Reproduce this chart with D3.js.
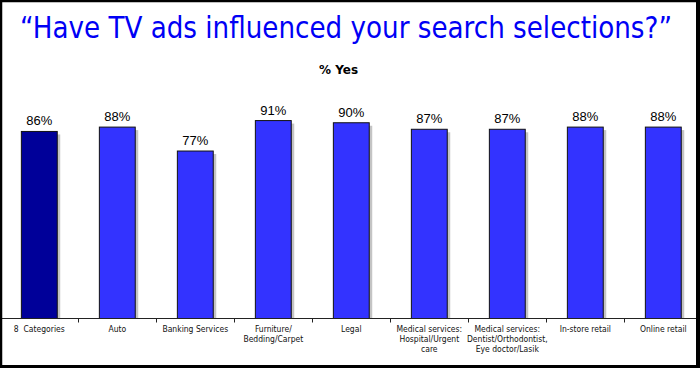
<!DOCTYPE html>
<html>
<head>
<meta charset="utf-8">
<script src="https://cdn.jsdelivr.net/npm/d3@7"></script>
<style>
  body { margin: 0; background: #fff; }
  svg { display: block; }
  text { white-space: pre; }
</style>
</head>
<body>
<script>
// chart data
const categories = [
    "8  Categories", "Auto", "Banking Services", "Furniture/\nBedding/Carpet", "Legal",
    "Medical services:\nHospital/Urgent\ncare", "Medical services:\nDentist/Orthodontist,\nEye doctor/Lasik",
    "In-store retail", "Online retail"
];
const values = [86, 88, 77, 91, 90, 87, 87, 88, 88];
const titleText = "\u201CHave TV ads influenced your search selections?\u201D";
const subTitle = "% Yes";

let W = 700, H = 368;

let svg = d3.select("body")
    .append("svg")
    .attr("width", W)
    .attr("height", H);

svg.append("rect")
    .attr("width", W).attr("height", H)
    .attr("fill", "#fff");

let x = d3.scaleBand()
    .domain(categories)
    .range([0.3, 702.3])
    .paddingInner(0.54)
    .paddingOuter(0.27);

let y = d3.scaleLinear()
    .domain([0, 100])
    .range([318.5, 101]);

// title
svg.append("text")
    .attr("x", 20)
    .attr("y", 38)
    .attr("font-family", "DejaVu Sans Condensed, DejaVu Sans")
    .attr("font-size", 30)
    .attr("fill", "#0000f5")
    .attr("textLength", 652)
    .attr("lengthAdjust", "spacingAndGlyphs")
    .text(titleText);

svg.append("text")
    .attr("x", 338.5)
    .attr("y", 74)
    .attr("text-anchor", "middle")
    .attr("font-family", "DejaVu Sans")
    .attr("font-weight", "bold")
    .attr("font-size", 12)
    .text(subTitle);

let bars = svg.append("g");

// shadows
bars.selectAll("rect.shadow")
    .data(values)
    .enter()
    .append("rect")
    .attr("class", "shadow")
    .attr("x", (d, i) => x(categories[i]) + 3)
    .attr("y", d => y(d) + 3)
    .attr("width", x.bandwidth())
    .attr("height", d => y(0) - y(d) - 3)
    .attr("fill", "#c4c4c4");

bars.selectAll("rect.bar")
    .data(values)
    .enter()
    .append("rect")
    .attr("class", "bar")
    .attr("x", (d, i) => x(categories[i]))
    .attr("y", d => y(d))
    .attr("width", x.bandwidth())
    .attr("height", d => y(0) - y(d))
    .attr("fill", (d, i) => i == 0 ? "#000099" : "#3333ff")
    .attr("stroke", "#111")
    .attr("stroke-width", 1);

// value labels
bars.selectAll("text")
    .data(values)
    .enter()
    .append("text")
    .attr("x", (d, i) => x(categories[i]) + x.bandwidth() / 2)
    .attr("y", d => y(d) - 6)
    .attr("text-anchor", "middle")
    .attr("font-family", "Liberation Sans, Arial")
    .attr("font-size", 13)
    .text(d => d + "%");

// axis line and ticks
let axis = svg.append("g");
axis.append("line")
    .attr("x1", 2).attr("x2", 696)
    .attr("y1", y(0)).attr("y2", y(0))
    .attr("stroke", "#222");

axis.selectAll("line.tick")
    .data(categories.slice(1))
    .enter()
    .append("line")
    .attr("class", "tick")
    .attr("x1", d => Math.round(x(d) - x.step() * x.paddingInner() / 2) + 0.5)
    .attr("x2", d => Math.round(x(d) - x.step() * x.paddingInner() / 2) + 0.5)
    .attr("y1", y(0)).attr("y2", y(0) + 4)
    .attr("stroke", "#222");

// category labels
let labels = axis.selectAll("text")
    .data(categories)
    .enter()
    .append("text")
    .attr("text-anchor", "middle")
    .attr("font-family", "DejaVu Sans Condensed, DejaVu Sans")
    .attr("font-size", 8.5)
    .attr("fill", "#111");

labels.selectAll("tspan")
    .data(d => d.split("\n").map(t => ({ t: t, c: d })))
    .enter()
    .append("tspan")
    .attr("x", d => x(d.c) + x.bandwidth() / 2)
    .attr("y", (d, i) => 332 + i * 10)
    .text(d => d.t);

// frame
svg.append("rect")
    .attr("x", 1).attr("y", 1)
    .attr("width", 696.5).attr("height", 365.5)
    .attr("fill", "none")
    .attr("stroke", "#000")
    .attr("stroke-width", 2.5);
svg.append("line")
    .attr("x1", 698).attr("x2", 698)
    .attr("y1", 0).attr("y2", H)
    .attr("stroke", "#000").attr("stroke-width", 4);
svg.append("line")
    .attr("x1", 0).attr("x2", W)
    .attr("y1", 366.5).attr("y2", 366.5)
    .attr("stroke", "#000").attr("stroke-width", 3);
</script>
</body>
</html>
